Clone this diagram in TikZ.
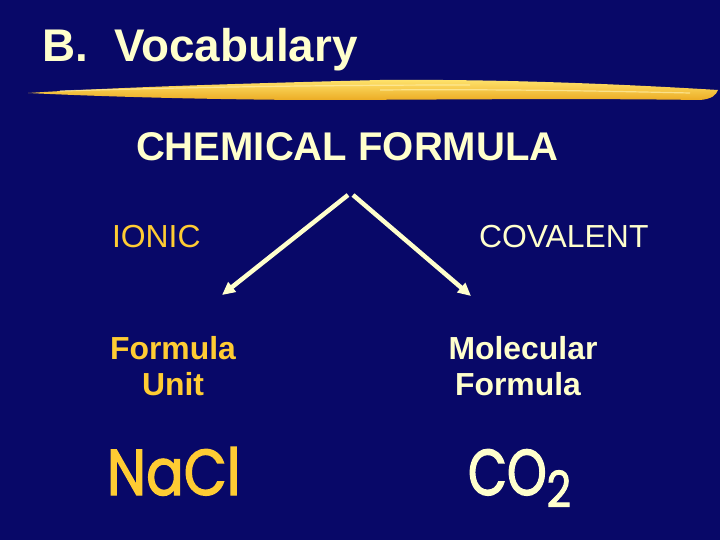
\documentclass[tikz,border=0pt]{standalone}
\usepackage{fontspec}
\usepackage{graphicx}
\setmainfont{Liberation Sans}
\newfontfamily\comicfont[FakeBold=2.2]{Poppins}
\usetikzlibrary{arrows.meta}
\definecolor{bgnavy}{RGB}{8,8,104}
\definecolor{cream}{RGB}{255,255,204}
\definecolor{gold}{RGB}{255,204,51}
\definecolor{brushlight}{RGB}{255,228,110}
\definecolor{brushdark}{RGB}{236,172,36}
\tikzset{
  txt/.style={inner sep=0pt, outer sep=0pt, anchor=base west},
  ctxt/.style={inner sep=0pt, outer sep=0pt, anchor=base},
  titlefont/.style={font=\fontsize{46}{50}\selectfont\bfseries, text=cream},
  headfont/.style={font=\fontsize{40.2}{44}\selectfont\bfseries, text=cream},
  branchfont/.style={font=\fontsize{32}{36}\selectfont},
  termfont/.style={font=\fontsize{32}{36}\selectfont\bfseries},
  formfont/.style={font=\fontsize{65}{70}\comicfont\selectfont},
  arrowline/.style={draw=cream, line width=4.5bp, -{Triangle[length=13bp,width=12bp]}},
  streak/.style={draw=brushlight!60!white, line width=1.2bp, opacity=0.7},
}
\begin{document}
\begin{tikzpicture}[x=1bp,y=-1bp]
\fill[bgnavy] (0,0) rectangle (720,540);
\useasboundingbox (0,0) rectangle (720,540);
% brush stroke
\shade[top color=brushlight, bottom color=brushdark]
  (28,93) .. controls (120,87) and (260,83) .. (380,80)
  .. controls (500,79) and (620,84) .. (718,90)
  .. controls (716,95) and (712,99) .. (700,100)
  .. controls (560,98) and (420,100) .. (300,100)
  .. controls (180,99) and (90,96) .. (28,93) -- cycle;
\draw[streak] (60,91) .. controls (200,87) and (330,85) .. (470,85);
\draw[streak] (380,90) .. controls (500,89) and (600,91) .. (690,93);
% title
\node[txt, titlefont] (tB) at (42,62) {B.};
\node[txt, titlefont] (tV) at (114,62) {Vocabulary};
% heading
\node[txt, headfont] (head) at (136,161) {CHEMICAL FORMULA};
% branches
\node[txt, branchfont, text=gold] (ionic) at (112,248) {IONIC};
\node[txt, branchfont, text=cream] (covalent) at (479,248) {COVALENT};
% terms
\node[ctxt, termfont, text=gold] (fu1) at (173,359) {Formula};
\node[ctxt, termfont, text=gold] (fu2) at (173,395) {Unit};
\node[ctxt, termfont, text=cream] (mf1) at (523,359) {Molecular};
\node[ctxt, termfont, text=cream] (mf2) at (518,395) {Formula};
% formulas
\node[txt, formfont, text=gold] (nacl) at (107,495) {\scalebox{0.86}[1]{NaCl}};
\node[txt, formfont, text=cream] (co2) at (468,495) {\scalebox{0.78}[1]{CO}\hspace{0bp}\raisebox{-12bp}{\fontsize{50}{54}\selectfont\scalebox{0.85}[1]{2}}};
% arrows
\coordinate (a1s) at (348,195);
\coordinate (a1e) at (222,295);
\coordinate (a2s) at (353,195);
\coordinate (a2e) at (471,296);
\draw[arrowline] (a1s) -- (a1e);
\draw[arrowline] (a2s) -- (a2e);
\end{tikzpicture}
\end{document}
